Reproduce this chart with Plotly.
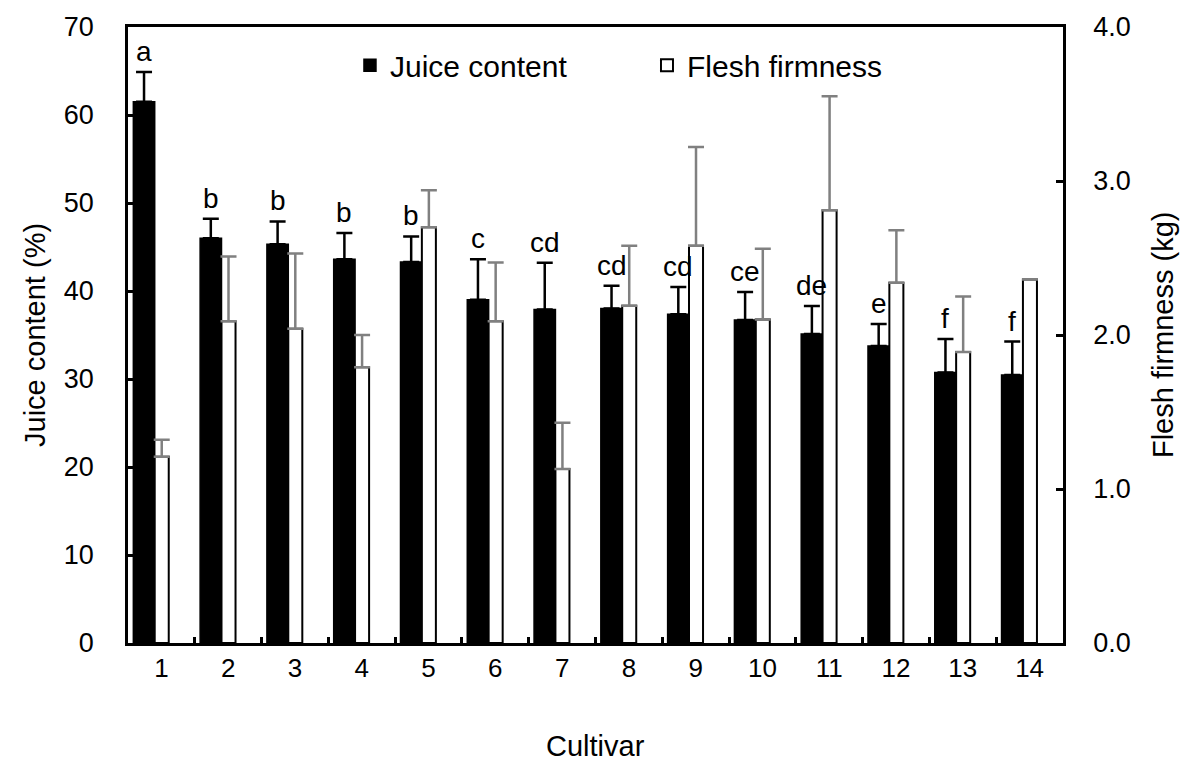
import plotly.graph_objects as go

cultivars = [str(i) for i in range(1, 15)]
juice = [61.5, 46.0, 45.3, 43.6, 43.3, 39.0, 37.9, 38.0, 37.35, 36.7, 35.1, 33.75, 30.75, 30.45]
juice_err = [3.4, 2.2, 2.6, 3.0, 2.9, 4.6, 5.3, 2.6, 3.1, 3.2, 3.2, 2.5, 3.8, 3.8]
firm = [1.21, 2.09, 2.04, 1.79, 2.70, 2.09, 1.13, 2.19, 2.58, 2.10, 2.81, 2.34, 1.89, 2.36]
firm_err = [0.11, 0.42, 0.49, 0.21, 0.24, 0.38, 0.30, 0.39, 0.64, 0.46, 0.74, 0.34, 0.36, None]
letters = ["a", "b", "b", "b", "b", "c", "cd", "cd", "cd", "ce", "de", "e", "f", "f"]

FONT = "Arial, Liberation Sans, sans-serif"
B_OFF, B_W = -0.42, 0.32
W_OFF, W_W = -0.10, 0.21

fig = go.Figure()
fig.add_trace(go.Bar(
    x=cultivars, y=juice, name="Juice content",
    marker=dict(color="black", line=dict(color="black", width=1.5)),
    offset=B_OFF, width=B_W,
    error_y=dict(type="data", symmetric=False, array=juice_err,
                 arrayminus=[0] * len(juice_err), color="black",
                 thickness=2.5, width=8),
    yaxis="y",
))
fig.add_trace(go.Bar(
    x=cultivars, y=firm, name="Flesh firmness",
    marker=dict(color="white", line=dict(color="black", width=2)),
    offset=W_OFF, width=W_W,
    error_y=dict(type="data", symmetric=False, array=firm_err,
                 arrayminus=[0] * len(firm_err), color="#808080",
                 thickness=2.5, width=8),
    yaxis="y2",
))

for i, (lab, v, e) in enumerate(zip(letters, juice, juice_err)):
    fig.add_annotation(
        x=i + B_OFF + B_W / 2, y=v + e, xref="x", yref="y",
        text=lab, showarrow=False, yanchor="bottom", yshift=3,
        font=dict(family=FONT, size=28, color="black"),
    )

# axis titles
fig.add_annotation(x=-0.0995, y=0.5, xref="paper", yref="paper",
                   xanchor="center", yanchor="middle",
                   text="Juice content (%)", textangle=-90, showarrow=False,
                   font=dict(family=FONT, size=29, color="black"))
fig.add_annotation(x=1.107, y=0.5, xref="paper", yref="paper",
                   xanchor="center", yanchor="middle",
                   text="Flesh firmness (kg)", textangle=-90, showarrow=False,
                   font=dict(family=FONT, size=29, color="black"))
fig.add_annotation(x=0.5, y=-0.167, xref="paper", yref="paper",
                   xanchor="center", yanchor="middle",
                   text="Cultivar", showarrow=False,
                   font=dict(family=FONT, size=29, color="black"))

fig.update_layout(
    width=1185, height=764,
    margin=dict(l=128, r=122, t=27, b=121),
    paper_bgcolor="white", plot_bgcolor="white",
    barmode="group",
    font=dict(family=FONT, size=26, color="black"),
    showlegend=True,
    legend=dict(orientation="h", x=0.2374, xanchor="left", y=0.938,
                yanchor="middle", font=dict(family=FONT, size=30),
                bgcolor="rgba(0,0,0,0)", entrywidth=252, traceorder="normal"),
    xaxis=dict(type="category", showline=True, linecolor="black", linewidth=2.5,
               mirror=True, ticks="inside", ticklen=6, tickwidth=2.5,
               tickcolor="black", tickson="boundaries", showgrid=False,
               tickfont=dict(family=FONT, size=26), ticklabelstandoff=0),
    yaxis=dict(range=[0, 70], dtick=10, showline=True, linecolor="black",
               linewidth=2.5, ticks="inside", ticklen=7, tickwidth=2.5,
               tickcolor="black", showgrid=False, zeroline=False,
               tickfont=dict(family=FONT, size=27), ticklabelstandoff=26),
    yaxis2=dict(range=[0, 4], dtick=1, tickformat=".1f", overlaying="y",
                side="right", showline=True, linecolor="black", linewidth=2.5,
                ticks="inside", ticklen=7, tickwidth=2.5, tickcolor="black",
                showgrid=False, zeroline=False,
                tickfont=dict(family=FONT, size=27), ticklabelstandoff=22),
)

fig.write_html("out.html")
